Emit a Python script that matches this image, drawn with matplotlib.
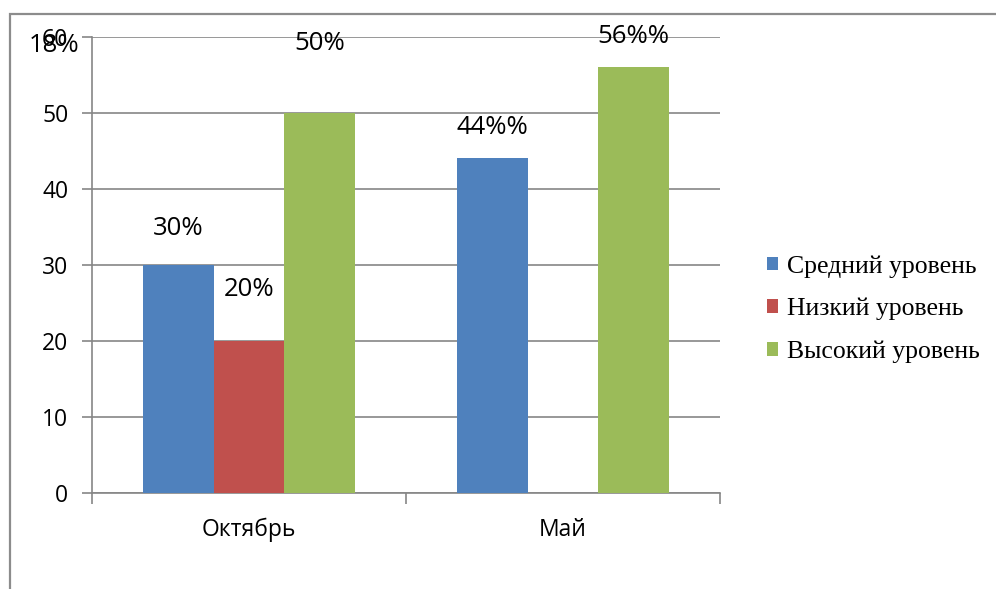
import matplotlib
matplotlib.use("Agg")
import matplotlib.pyplot as plt
import matplotlib.patches as patches
import numpy as np

# chart data
months = ["Октябрь", "Май"]
series_names = ["Средний уровень", "Низкий уровень", "Высокий уровень"]
middle = [30, 44]
low = [20, 0]
high = [50, 56]
label_texts = [["30%", "44%%"], ["20%", ""], ["50%", "56%%"]]
colors = ["#4F81BD", "#C0504D", "#9BBB59"]

plt.rcParams["font.family"] = ["Open Sans", "DejaVu Sans"]

fig = plt.figure(figsize=(9.96, 5.89), dpi=100)
ax = fig.add_axes([0.0924, 0.163, 0.6305, 0.7745])

# outer chart frame (clipped by the figure on right and bottom)
frame = patches.Rectangle((0.010, -0.1), 1.2, 0.1 + 0.976, transform=fig.transFigure,
                          fill=False, edgecolor="#8c8c8c", linewidth=1.6)
fig.patches.append(frame)

x = np.arange(len(months))
bar_w = 0.2245
values = [middle, low, high]
# vertical offsets of data labels above bar tops, in points
label_offsets = [[26, 22], [37, 0], [50, 22]]

for i, (vals, name, col) in enumerate(zip(values, series_names, colors)):
    pos = x + (i - 1) * bar_w
    ax.bar(pos, vals, width=bar_w, color=col, label=name, zorder=3)
    for j, (p, v) in enumerate(zip(pos, vals)):
        if label_texts[i][j]:
            ax.annotate(label_texts[i][j], (p, v), xytext=(0, label_offsets[i][j]),
                        textcoords="offset points", ha="center", va="center",
                        fontsize=18.5, zorder=4)

# stray label drawn over the axis top
fig.text(0.054, 1 - 45 / 589, "18%", ha="center", va="center", fontsize=18.5)

ax.set_xlim(-0.5, 1.5)
ax.set_ylim(0, 60)
ax.set_yticks(range(0, 61, 10))
ax.set_xticks([0, 1])
ax.set_xticklabels(months)
ax.set_xticks([-0.5, 0.5, 1.5], minor=True)
ax.tick_params(axis="x", which="major", length=0, pad=18, labelsize=16.5)
ax.tick_params(axis="x", which="minor", length=8, color="#868686", width=1.2)
ax.tick_params(axis="y", length=7, color="#868686", width=1.2, labelsize=16.5, pad=10)

ax.grid(axis="y", color="#868686", linewidth=1.2, zorder=0)
for s in ["top", "right"]:
    ax.spines[s].set_visible(False)
for s in ["left", "bottom"]:
    ax.spines[s].set_color("#868686")
    ax.spines[s].set_linewidth(1.2)

leg = fig.legend(loc="center left", bbox_to_anchor=(0.770, 1 - 309 / 589),
                 frameon=False, prop={"family": "Liberation Serif", "size": 18.5},
                 handlelength=0.45, handleheight=0.45, handletextpad=0.35,
                 labelspacing=0.78, borderpad=0, borderaxespad=0)

fig.savefig("out.png", dpi=100)
